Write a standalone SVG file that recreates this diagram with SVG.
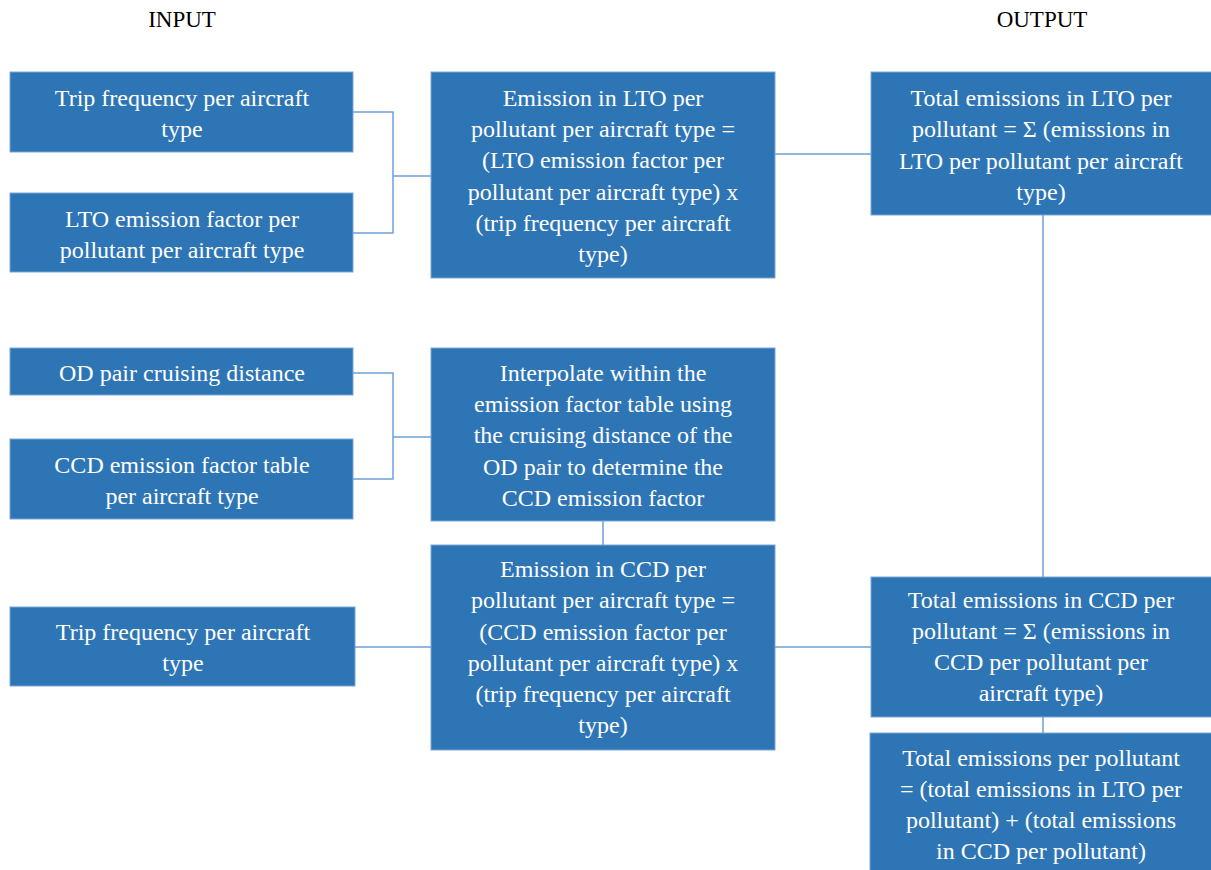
<svg xmlns="http://www.w3.org/2000/svg" width="1211" height="870" viewBox="0 0 1211 870" font-family="'Liberation Serif', serif" font-size="24" text-anchor="middle">
<defs>
<style>
rect.box{fill:#2E75B6;stroke:#7AA7D6;stroke-width:1}
text.w{fill:#FFFFFF}
text.h{fill:#000000;font-size:23px}
path.c{fill:none;stroke:#6FA0D6;stroke-width:1.5}
</style>
</defs>
<rect width="1211" height="870" fill="#FFFFFF"/>
<g id="headers">
<text class="h" x="182" y="27">INPUT</text>
<text class="h" x="1042" y="27">OUTPUT</text>
</g>
<g id="connectors">
<path class="c" d="M353 112 H393 V233 H353"/>
<path class="c" d="M393 176 H431"/>
<path class="c" d="M775 154 H871"/>
<path class="c" d="M1043 215 V577"/>
<path class="c" d="M353 373 H393 V479 H353"/>
<path class="c" d="M393 437 H431"/>
<path class="c" d="M603 521 V545"/>
<path class="c" d="M355 647 H431"/>
<path class="c" d="M775 647 H871"/>
<path class="c" d="M1043 717 V733"/>
</g>
<g id="n1"><rect class="box" x="10" y="72" width="343" height="80"/>
<text class="w" x="182" y="106">Trip frequency per aircraft</text><text class="w" x="182" y="137">type</text></g>
<g id="n2"><rect class="box" x="10" y="193" width="343" height="79"/>
<text class="w" x="182" y="227">LTO emission factor per</text><text class="w" x="182" y="258">pollutant per aircraft type</text></g>
<g id="n3"><rect class="box" x="431" y="72" width="344" height="206"/>
<text class="w" x="603" y="106">Emission in LTO per</text>
<text class="w" x="603" y="137">pollutant per aircraft type =</text>
<text class="w" x="603" y="168">(LTO emission factor per</text>
<text class="w" x="603" y="200">pollutant per aircraft type) x</text>
<text class="w" x="603" y="231">(trip frequency per aircraft</text>
<text class="w" x="603" y="262">type)</text></g>
<g id="n4"><rect class="box" x="871" y="72" width="345" height="143"/>
<text class="w" x="1041" y="106">Total emissions in LTO per</text>
<text class="w" x="1041" y="137">pollutant = Σ (emissions in</text>
<text class="w" x="1041" y="169">LTO per pollutant per aircraft</text>
<text class="w" x="1041" y="200">type)</text></g>
<g id="n5"><rect class="box" x="10" y="348" width="343" height="47"/>
<text class="w" x="182" y="381">OD pair cruising distance</text></g>
<g id="n6"><rect class="box" x="10" y="439" width="343" height="80"/>
<text class="w" x="182" y="473">CCD emission factor table</text><text class="w" x="182" y="504">per aircraft type</text></g>
<g id="n7"><rect class="box" x="431" y="348" width="344" height="173"/>
<text class="w" x="603" y="381">Interpolate within the</text>
<text class="w" x="603" y="412">emission factor table using</text>
<text class="w" x="603" y="443">the cruising distance of the</text>
<text class="w" x="603" y="475">OD pair to determine the</text>
<text class="w" x="603" y="506">CCD emission factor</text></g>
<g id="n8"><rect class="box" x="431" y="545" width="344" height="205"/>
<text class="w" x="603" y="577">Emission in CCD per</text>
<text class="w" x="603" y="608">pollutant per aircraft type =</text>
<text class="w" x="603" y="640">(CCD emission factor per</text>
<text class="w" x="603" y="671">pollutant per aircraft type) x</text>
<text class="w" x="603" y="702">(trip frequency per aircraft</text>
<text class="w" x="603" y="733">type)</text></g>
<g id="n9"><rect class="box" x="10" y="607" width="345" height="79"/>
<text class="w" x="183" y="640">Trip frequency per aircraft</text><text class="w" x="183" y="671">type</text></g>
<g id="n10"><rect class="box" x="871" y="577" width="345" height="140"/>
<text class="w" x="1041" y="608">Total emissions in CCD per</text>
<text class="w" x="1041" y="639">pollutant = Σ (emissions in</text>
<text class="w" x="1041" y="670">CCD per pollutant per</text>
<text class="w" x="1041" y="701">aircraft type)</text></g>
<g id="n11"><rect class="box" x="870" y="733" width="346" height="140"/>
<text class="w" x="1041" y="766">Total emissions per pollutant</text>
<text class="w" x="1041" y="797">= (total emissions in LTO per</text>
<text class="w" x="1041" y="828">pollutant) + (total emissions</text>
<text class="w" x="1041" y="859">in CCD per pollutant)</text></g>
</svg>
